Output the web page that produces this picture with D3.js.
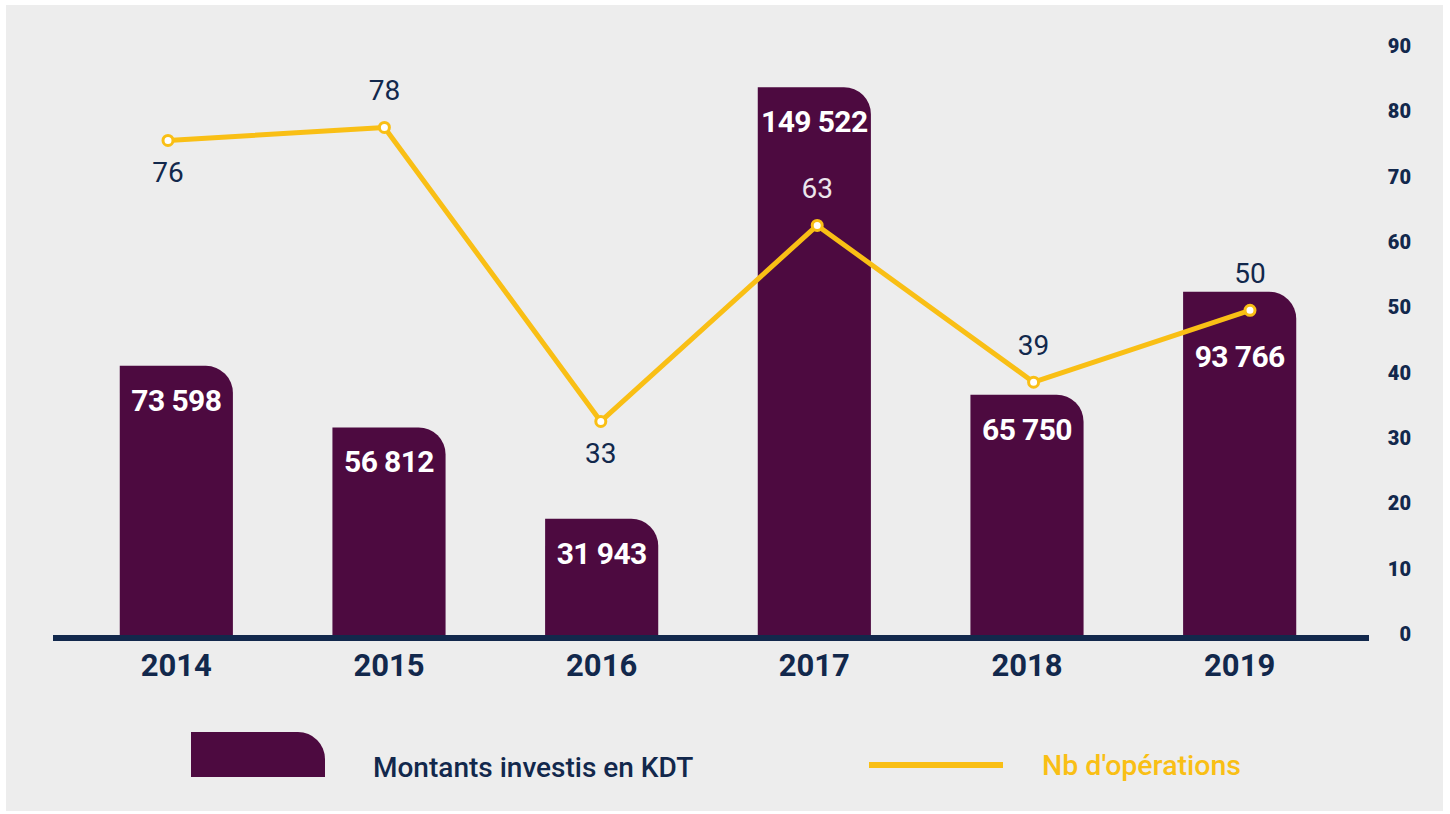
<!DOCTYPE html>
<html>
<head>
<meta charset="utf-8">
<script src="https://cdn.jsdelivr.net/npm/d3@7"></script>
<style>
  html, body { margin: 0; padding: 0; background: #fff; }
  svg { display: block; font-family: Roboto, "Noto Sans", sans-serif; }
</style>
</head>
<body>
<div id="chart"></div>
<script>
// data
var years = ["2014", "2015", "2016", "2017", "2018", "2019"];
var montants = [73598, 56812, 31943, 149522, 65750, 93766];
var operations = [76, 78, 33, 63, 39, 50];
var opLabelPos = ["below", "above", "below", "above", "above", "above"];
var rightTicks = [0, 10, 20, 30, 40, 50, 60, 70, 80, 90];

var W = 1450, H = 814;
var navy = "#12284c", plum = "#4d0a40", gold = "#f9bf15";

var svg = d3.select("#chart").append("svg")
    .attr("width", W).attr("height", H);

// grey panel
svg.append("rect")
    .attr("x", 6).attr("y", 5)
    .attr("width", 1437).attr("height", 806)
    .attr("fill", "#ededed");

var x = d3.scaleBand().domain(years)
    .range([70, 1346]).paddingInner(0.468).paddingOuter(0.234);
var xp = d3.scalePoint().domain(years).range([168, 1250]);
var y = d3.scaleLinear().domain([0, 161000]).range([636, 45]);
var y2 = d3.scaleLinear().domain([0, 90]).range([637, 49]);

// bar with rounded top-right corner
function barPath(x0, y0, w, h, r) {
    r = Math.min(r, h, w);
    return "M" + x0 + "," + (y0 + h) +
        "V" + y0 +
        "H" + (x0 + w - r) +
        "A" + r + "," + r + " 0 0 1 " + (x0 + w) + "," + (y0 + r) +
        "V" + (y0 + h) + "Z";
}

// value label sits under the bar top, pushed down if the line point is in the way
function barLabelY(i) {
    var top = y(montants[i]);
    var py = y2(operations[i]);
    var base = top + 45;
    if (py > top - 5 && py < top + 55) base = py + 57;
    return base;
}

var bars = svg.append("g");
bars.selectAll("path")
    .data(years)
    .enter().append("path")
    .attr("d", function(d, i) {
        return barPath(x(d), y(montants[i]), x.bandwidth(), y(0) - y(montants[i]), 27);
    })
    .attr("fill", plum);

bars.selectAll("text")
    .data(years)
    .enter().append("text")
    .attr("x", function(d) { return x(d) + x.bandwidth() / 2; })
    .attr("y", function(d, i) { return barLabelY(i); })
    .attr("text-anchor", "middle")
    .attr("fill", "#fff")
    .attr("font-size", 30)
    .attr("font-weight", "bold")
    .attr("letter-spacing", -0.6)
    .text(function(d, i) { return d3.format(",")(montants[i]).replace(/,/g, " "); });

// baseline
svg.append("line")
    .attr("x1", 53).attr("x2", 1369)
    .attr("y1", 638).attr("y2", 638)
    .attr("stroke", navy).attr("stroke-width", 6);

// year labels
svg.append("g").selectAll("text")
    .data(years)
    .enter().append("text")
    .attr("x", function(d) { return x(d) + x.bandwidth() / 2; })
    .attr("y", 676)
    .attr("text-anchor", "middle")
    .attr("fill", navy)
    .attr("font-size", 31)
    .attr("font-weight", "bold")
    .text(function(d) { return d; });

// right axis
svg.append("g").selectAll("text")
    .data(rightTicks)
    .enter().append("text")
    .attr("x", 1411)
    .attr("y", function(d) { return y2(d) + 4; })
    .attr("text-anchor", "end")
    .attr("fill", navy)
    .attr("font-size", 20)
    .attr("font-weight", 900)
    .text(function(d) { return d; });

// line
var line = d3.line()
    .x(function(d, i) { return xp(years[i]); })
    .y(function(d) { return y2(d); });

svg.append("path")
    .datum(operations)
    .attr("d", line)
    .attr("fill", "none")
    .attr("stroke", gold)
    .attr("stroke-width", 5)
    .attr("stroke-linejoin", "round");

svg.append("g").selectAll("circle")
    .data(operations)
    .enter().append("circle")
    .attr("cx", function(d, i) { return xp(years[i]); })
    .attr("cy", function(d) { return y2(d); })
    .attr("r", 5)
    .attr("fill", "#fff")
    .attr("stroke", gold)
    .attr("stroke-width", 3);

svg.append("g").selectAll("text")
    .data(operations)
    .enter().append("text")
    .attr("x", function(d, i) { return xp(years[i]); })
    .attr("y", function(d, i) { return y2(d) + (opLabelPos[i] === "below" ? 42 : -27); })
    .attr("text-anchor", "middle")
    .attr("fill", function(d, i) {
        // labels that land on a bar are drawn light
        var ly = y2(d) + (opLabelPos[i] === "below" ? 42 : -27) - 10;
        return ly > y(montants[i]) ? "#ece6ec" : navy;
    })
    .attr("font-size", 28)
    .text(function(d) { return d; });

// legend
var lg = svg.append("g");
lg.append("path")
    .attr("d", barPath(191, 732, 134, 45, 27))
    .attr("fill", plum);
lg.append("text")
    .attr("x", 373).attr("y", 777)
    .attr("fill", navy)
    .attr("font-size", 28)
    .attr("font-weight", 500)
    .text("Montants investis en KDT");
lg.append("line")
    .attr("x1", 869).attr("x2", 1003)
    .attr("y1", 765).attr("y2", 765)
    .attr("stroke", gold).attr("stroke-width", 6);
lg.append("text")
    .attr("x", 1042).attr("y", 775)
    .attr("fill", gold)
    .attr("font-size", 28.5)
    .attr("font-weight", 500)
    .text("Nb d'opérations");
</script>
</body>
</html>
